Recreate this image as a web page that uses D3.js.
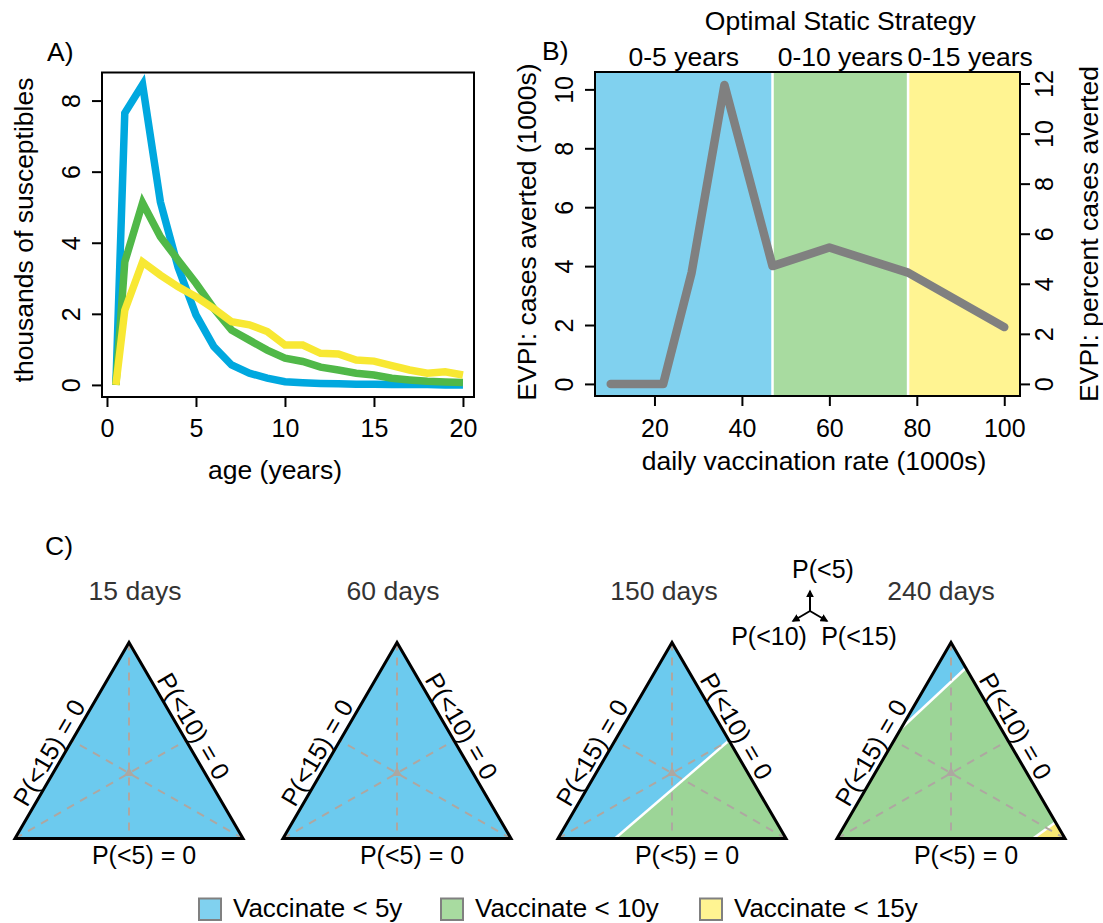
<!DOCTYPE html>
<html><head><meta charset="utf-8">
<script src="https://cdn.jsdelivr.net/npm/d3@7"></script>
<style>
body{margin:0;background:#fff;}
svg text{font-family:"Liberation Sans", Arial, Helvetica, sans-serif;fill:#000;}
</style></head><body>
<svg id="chart" width="1103" height="923"></svg>
<script>
// ---------- Panel A data ----------
const ages = [0.5,1,2,3,4,5,6,7,8,9,10,11,12,13,14,15,16,17,18,19,20];
const suscBlue   = [0,7.65,8.45,5.15,3.3,1.97,1.08,0.56,0.33,0.19,0.09,0.06,0.04,0.03,0.02,0.02,0.01,0.01,0.01,0,0];
const suscGreen  = [0,3.46,5.12,4.17,3.51,2.86,2.15,1.54,1.26,0.98,0.75,0.66,0.5,0.42,0.33,0.28,0.19,0.14,0.1,0.08,0.07];
const suscYellow = [0,2.1,3.46,3.09,2.76,2.48,2.15,1.78,1.69,1.5,1.12,1.12,0.89,0.87,0.7,0.67,0.54,0.42,0.33,0.37,0.28];
const ageTicks = [0,5,10,15,20];
const suscTicks = [0,2,4,6,8];

// ---------- Panel B data ----------
const vaccRate = [10,22,28.5,36,47,60,78,100];
const evpiCases = [0,0,3.78,10.15,4.0,4.63,3.78,1.93];
const strategyBreaks = [47,78];
const strategyLabels = ["0-5 years","0-10 years","0-15 years"];
const rateTicks = [20,40,60,80,100];
const casesTicks = [0,2,4,6,8,10];
const percentTicks = [0,2,4,6,8,10,12];

// ---------- Panel C data ----------
const dayLabels = ["15 days","60 days","150 days","240 days"];
// regions: barycentric [P(<5), P(<10), P(<15)], s = strategy index
const triRegions = [
  [{s:0, pts:[[1,0,0],[0,1,0],[0,0,1]]}],
  [{s:0, pts:[[1,0,0],[0,1,0],[0,0,1]]}],
  [{s:0, pts:[[1,0,0],[0,1,0],[0,0.75,0.25],[0.5,0,0.5]]},
   {s:1, pts:[[0,0.75,0.25],[0,0,1],[0.5,0,0.5]]}],
  [{s:0, pts:[[1,0,0],[0.56,0.44,0],[0.87,0,0.13]]},
   {s:1, pts:[[0.56,0.44,0],[0,1,0],[0,0.14,0.86],[0.083,0,0.917],[0.87,0,0.13]]},
   {s:2, pts:[[0,0.14,0.86],[0,0,1],[0.083,0,0.917]]}]
];
const triBoundaries = [
  [], [],
  [[[0,0.75,0.25],[0.5,0,0.5]]],
  [[[0.56,0.44,0],[0.87,0,0.13]], [[0,0.14,0.86],[0.083,0,0.917]]]
];
const legendLabels = ["Vaccinate < 5y","Vaccinate < 10y","Vaccinate < 15y"];

// ---------- styling ----------
const FONT = '"Liberation Sans", Arial, Helvetica, sans-serif';
const lineCols = ["#00a8df","#50b848","#f8e833"];
const bgCols = ["#80d1ef","#a8dba0","#fff492"];
const triCols = ["#6ccaee","#9cd597","#f8e874"];

const svg = d3.select("#chart");

function styleAxis(g){
  g.attr("font-family", FONT).attr("font-size", 25);
  g.select(".domain").remove();
  g.selectAll(".tick line").attr("stroke","#000").attr("stroke-width",2);
  g.selectAll(".tick text").attr("fill","#000");
}

// ================= Panel A =================
const xA = d3.scaleLinear().domain([-0.28,20.62]).range([102,474]);
const yA = d3.scaleLinear().domain([-0.34,8.79]).range([397,72.5]);
const lineA = d3.line().x((d,i)=>xA(ages[i])).y(d=>yA(d));
[suscBlue,suscGreen,suscYellow].forEach((s,k)=>{
  svg.append("path").attr("d",lineA(s)).attr("fill","none")
    .attr("stroke",lineCols[k]).attr("stroke-width",7.5)
    .attr("stroke-linejoin","miter").attr("stroke-linecap","butt");
});
svg.append("rect").attr("x",102).attr("y",72.5).attr("width",372).attr("height",324.5)
  .attr("fill","none").attr("stroke","#000").attr("stroke-width",2);
svg.append("g").attr("transform","translate(0,397)")
  .call(d3.axisBottom(xA).tickValues(ageTicks).tickSize(10).tickFormat(d3.format("d")))
  .call(styleAxis)
  .call(g=>g.selectAll(".tick text").attr("y",40).attr("dy",0));
svg.append("g").attr("transform","translate(102,0)")
  .call(d3.axisLeft(yA).tickValues(suscTicks).tickSize(10).tickFormat(d3.format("d")))
  .call(styleAxis)
  .call(g=>g.selectAll(".tick text").attr("x",0).attr("dy",0).attr("text-anchor","middle")
    .attr("transform","translate(-22,0) rotate(-90)"));
svg.append("text").attr("x",275).attr("y",479).attr("text-anchor","middle")
  .attr("font-size",26.5).text("age (years)");
svg.append("text").attr("transform","translate(33,230) rotate(-90)").attr("text-anchor","middle")
  .attr("font-size",26.5).text("thousands of susceptibles");
svg.append("text").attr("x",47).attr("y",61).attr("font-size",26.5).text("A)");

// ================= Panel B =================
const xB = d3.scaleLinear().domain([6.4,103.6]).range([595,1020]);
const yB = d3.scaleLinear().domain([-0.41,10.59]).range([396,72]);
const yBR = d3.scaleLinear().domain([-0.483,12.46]).range([396,72]);
const edges = [xB.domain()[0], ...strategyBreaks, xB.domain()[1]];
const labelEdges = [xB.domain()[0], ...strategyBreaks, xB.domain()[1] + 2.8];
strategyLabels.forEach((lab,i)=>{
  svg.append("rect").attr("x",xB(edges[i])).attr("y",72)
    .attr("width",xB(edges[i+1])-xB(edges[i])).attr("height",324).attr("fill",bgCols[i]);
  svg.append("text").attr("x",(xB(labelEdges[i])+xB(labelEdges[i+1]))/2).attr("y",66)
    .attr("text-anchor","middle").attr("font-size",26.5).text(lab);
});
strategyBreaks.forEach(b=>{
  svg.append("line").attr("x1",xB(b)).attr("x2",xB(b)).attr("y1",72).attr("y2",396)
    .attr("stroke","#fff").attr("stroke-width",2.5);
});
svg.append("text").attr("x",(xB(strategyBreaks[0])+xB(strategyBreaks[1]))/2).attr("y",30)
  .attr("text-anchor","middle").attr("font-size",26.5).text("Optimal Static Strategy");
const lineB = d3.line().x((d,i)=>xB(vaccRate[i])).y(d=>yB(d));
svg.append("path").attr("d",lineB(evpiCases)).attr("fill","none").attr("stroke","#808080")
  .attr("stroke-width",8.5).attr("stroke-linejoin","round").attr("stroke-linecap","round");
svg.append("rect").attr("x",595).attr("y",72).attr("width",425).attr("height",324)
  .attr("fill","none").attr("stroke","#000").attr("stroke-width",2);
svg.append("g").attr("transform","translate(0,396)")
  .call(d3.axisBottom(xB).tickValues(rateTicks).tickSize(10).tickFormat(d3.format("d")))
  .call(styleAxis)
  .call(g=>g.selectAll(".tick text").attr("y",41).attr("dy",0));
svg.append("g").attr("transform","translate(595,0)")
  .call(d3.axisLeft(yB).tickValues(casesTicks).tickSize(10).tickFormat(d3.format("d")))
  .call(styleAxis)
  .call(g=>g.selectAll(".tick text").attr("x",0).attr("dy",0).attr("text-anchor","middle")
    .attr("transform","translate(-22,0) rotate(-90)"));
svg.append("g").attr("transform","translate(1020,0)")
  .call(d3.axisRight(yBR).tickValues(percentTicks).tickSize(10).tickFormat(d3.format("d")))
  .call(styleAxis)
  .call(g=>g.selectAll(".tick text").attr("x",0).attr("dy",0).attr("text-anchor","middle")
    .attr("transform","translate(33,0) rotate(-90)"));
svg.append("text").attr("x",814).attr("y",470).attr("text-anchor","middle")
  .attr("font-size",26.5).text("daily vaccination rate (1000s)");
svg.append("text").attr("transform","translate(536,232) rotate(-90)").attr("text-anchor","middle")
  .attr("font-size",26.5).text("EVPI: cases averted (1000s)");
svg.append("text").attr("transform","translate(1098,234) rotate(-90)").attr("text-anchor","middle")
  .attr("font-size",26.5).text("EVPI: percent cases averted");
svg.append("text").attr("x",542).attr("y",60).attr("font-size",26.5).text("B)");

// ================= Panel C =================
svg.append("text").attr("x",45).attr("y",555).attr("font-size",26.5).text("C)");
const apexX = [129,397,672,951];
const titleX = [135,393,664,941];
const topY = 642.5, baseY = 838.5, halfW = 114;
const medCol = "#aea7a1";

apexX.forEach((ax,i)=>{
  const A = [ax,topY], L = [ax-halfW,baseY], R = [ax+halfW,baseY];
  const P = b => [b[0]*A[0]+b[1]*L[0]+b[2]*R[0], b[0]*A[1]+b[1]*L[1]+b[2]*R[1]];
  const g = svg.append("g");
  triRegions[i].forEach(r=>{
    g.append("path").attr("d", d3.line()(r.pts.map(P))+"Z").attr("fill",triCols[r.s]).attr("stroke","none");
  });
  triBoundaries[i].forEach(seg=>{
    const p = seg.map(P);
    g.append("line").attr("x1",p[0][0]).attr("y1",p[0][1]).attr("x2",p[1][0]).attr("y2",p[1][1])
      .attr("stroke","#fff").attr("stroke-width",2.5);
  });
  // medians
  [[A,[(L[0]+R[0])/2,(L[1]+R[1])/2]],[L,[(A[0]+R[0])/2,(A[1]+R[1])/2]],[R,[(A[0]+L[0])/2,(A[1]+L[1])/2]]]
    .forEach(([p,q])=>{
      g.append("line").attr("x1",p[0]).attr("y1",p[1]).attr("x2",q[0]).attr("y2",q[1])
        .attr("stroke",medCol).attr("stroke-width",2).attr("stroke-dasharray","8,7");
    });
  const C = P([1/3,1/3,1/3]);
  g.append("path").attr("d",d3.symbol(d3.symbolTriangle,45)()).attr("transform",`translate(${C[0]},${C[1]})`)
    .attr("fill",medCol);
  g.append("path").attr("d", d3.line()([A,L,R])+"Z").attr("fill","none").attr("stroke","#000")
    .attr("stroke-width",3).attr("stroke-linejoin","miter");
  // title
  svg.append("text").attr("x",titleX[i]).attr("y",600).attr("text-anchor","middle")
    .attr("font-size",26.5).style("fill","#333").text(dayLabels[i]);
  // edge labels
  const len = Math.hypot(A[0]-L[0],A[1]-L[1]);
  const u = [(A[0]-L[0])/len,(A[1]-L[1])/len];   // left edge upward
  const nL = [u[1], -u[0]];                        // outward normal left
  const mL = [(A[0]+L[0])/2,(A[1]+L[1])/2];
  const pL = [mL[0]-22*u[0]+5*nL[0], mL[1]-22*u[1]+5*nL[1]];
  const angL = Math.atan2(u[1],u[0])*180/Math.PI;
  svg.append("text").attr("transform",`translate(${pL[0]},${pL[1]}) rotate(${angL})`)
    .attr("text-anchor","middle").attr("font-size",25).text("P(<15) = 0");
  const v = [(R[0]-A[0])/len,(R[1]-A[1])/len];    // right edge downward
  const nR = [v[1], -v[0]];
  const mR = [(A[0]+R[0])/2,(A[1]+R[1])/2];
  const pR = [mR[0]-8.5*v[0]+5*nR[0], mR[1]-8.5*v[1]+5*nR[1]];
  const angR = Math.atan2(v[1],v[0])*180/Math.PI;
  svg.append("text").attr("transform",`translate(${pR[0]},${pR[1]}) rotate(${angR})`)
    .attr("text-anchor","middle").attr("font-size",25).text("P(<10) = 0");
  svg.append("text").attr("x",ax+15).attr("y",864).attr("text-anchor","middle")
    .attr("font-size",25).text("P(<5) = 0");
});

// orientation key
const defs = svg.append("defs");
defs.append("marker").attr("id","ah").attr("viewBox","0 0 10 10").attr("refX",8).attr("refY",5)
  .attr("markerWidth",4).attr("markerHeight",4).attr("orient","auto")
  .append("path").attr("d","M0,0L10,5L0,10Z").attr("fill","#000");
const kc = [810,611];
[[810,591],[793,621],[827,621]].forEach(e=>{
  svg.append("line").attr("x1",kc[0]).attr("y1",kc[1]).attr("x2",e[0]).attr("y2",e[1])
    .attr("stroke","#000").attr("stroke-width",2).attr("marker-end","url(#ah)");
});
svg.append("text").attr("x",823).attr("y",578).attr("text-anchor","middle").attr("font-size",25).text("P(<5)");
svg.append("text").attr("x",769).attr("y",645).attr("text-anchor","middle").attr("font-size",25).text("P(<10)");
svg.append("text").attr("x",859).attr("y",645).attr("text-anchor","middle").attr("font-size",25).text("P(<15)");

// legend
const legX = [199,441,700];
legendLabels.forEach((lab,i)=>{
  svg.append("rect").attr("x",legX[i]).attr("y",898.5).attr("width",22).attr("height",21.5)
    .attr("fill",bgCols[i]).attr("stroke","#808080").attr("stroke-width",2);
  svg.append("text").attr("x",legX[i]+34).attr("y",917).attr("font-size",26).text(lab);
});
</script></body></html>
